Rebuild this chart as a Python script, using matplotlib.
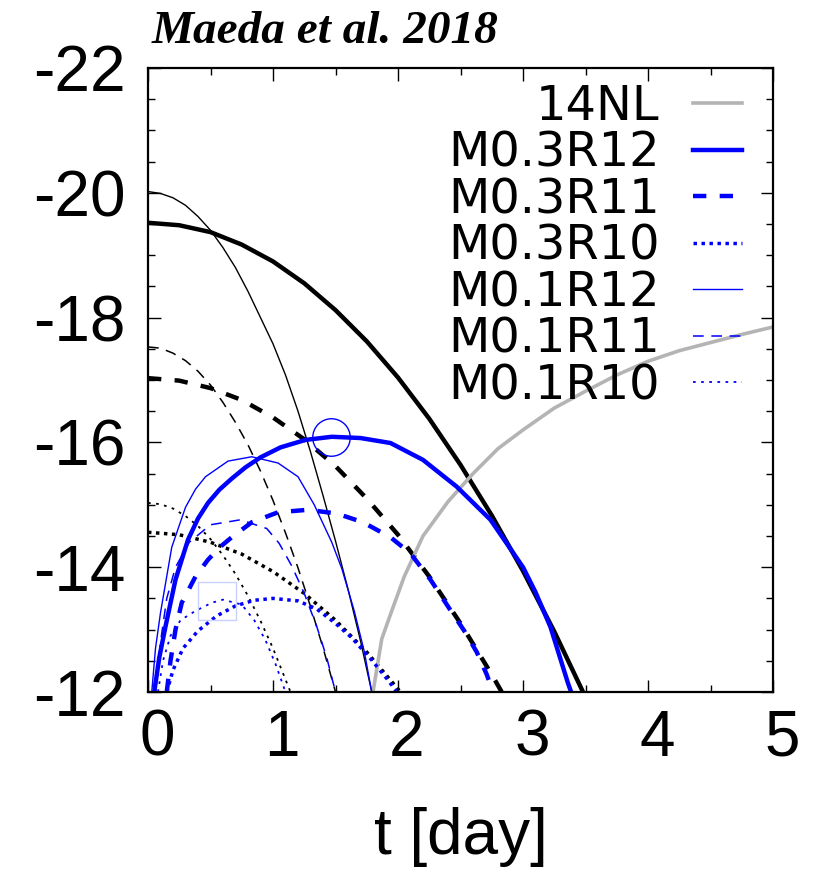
import matplotlib
matplotlib.use("Agg")
import matplotlib.pyplot as plt
from matplotlib.transforms import ScaledTranslation
from matplotlib.ticker import MultipleLocator

plt.rcParams['axes.unicode_minus'] = False

# 14NL light curve (gray)
t_14nl = [1.80, 1.87, 1.95, 2.05, 2.20, 2.40, 2.60, 2.80, 3.00, 3.25, 3.50, 3.75, 4.00, 4.25, 4.50, 4.75, 5.00]
m_14nl = [-12.0, -12.85, -13.3, -13.85, -14.5, -15.05, -15.5, -15.9, -16.2, -16.55, -16.82, -17.08, -17.3, -17.47, -17.6, -17.73, -17.85]

# CSM models (blue)
t_m03r12 = [0.05, 0.09, 0.14, 0.22, 0.32, 0.40, 0.48, 0.57, 0.67, 0.78, 0.90, 1.06, 1.26, 1.47, 1.70, 1.94, 2.20, 2.47, 2.74, 3.00, 3.10, 3.22, 3.36, 3.385]
m_m03r12 = [-12.0, -12.55, -13.05, -13.8, -14.44, -14.78, -15.03, -15.24, -15.42, -15.6, -15.76, -15.92, -16.04, -16.09, -16.07, -15.99, -15.72, -15.29, -14.76, -14.0, -13.6, -13.04, -12.14, -12.0]

t_m03r11 = [0.15, 0.18, 0.22, 0.27, 0.38, 0.48, 0.58, 0.67, 0.83, 1.04, 1.28, 1.51, 1.72, 1.94, 2.10, 2.26, 2.42, 2.53, 2.63, 2.71, 2.76]
m_m03r11 = [-12.0, -12.5, -13.0, -13.43, -13.85, -14.12, -14.33, -14.48, -14.72, -14.88, -14.92, -14.86, -14.72, -14.48, -14.22, -13.8, -13.31, -12.98, -12.64, -12.28, -12.0]

t_m03r10 = [0.15, 0.20, 0.28, 0.40, 0.55, 0.70, 0.85, 1.00, 1.20, 1.35, 1.50, 1.63, 1.79, 1.92, 1.99]
m_m03r10 = [-12.0, -12.35, -12.7, -12.98, -13.22, -13.38, -13.47, -13.5, -13.46, -13.33, -13.1, -12.87, -12.51, -12.19, -12.0]

t_m01r12 = [0.03, 0.06, 0.10, 0.19, 0.30, 0.38, 0.46, 0.64, 0.83, 1.04, 1.20, 1.33, 1.47, 1.55, 1.65, 1.73, 1.79]
m_m01r12 = [-12.0, -12.7, -13.27, -14.32, -14.96, -15.25, -15.45, -15.7, -15.77, -15.67, -15.45, -15.0, -14.4, -13.98, -13.3, -12.65, -12.0]

t_m01r11 = [0.06, 0.10, 0.15, 0.22, 0.33, 0.50, 0.74, 0.95, 1.05, 1.15, 1.25, 1.35, 1.43, 1.50]
m_m01r11 = [-12.0, -12.8, -13.5, -14.0, -14.4, -14.68, -14.76, -14.62, -14.38, -14.02, -13.58, -13.05, -12.55, -12.0]

t_m01r10 = [0.08, 0.12, 0.18, 0.26, 0.38, 0.51, 0.60, 0.75, 0.85, 0.94, 1.02, 1.10]
m_m01r10 = [-12.0, -12.5, -12.9, -13.15, -13.3, -13.43, -13.48, -13.4, -13.15, -12.83, -12.45, -12.0]

# cooling-envelope counterparts (black)
t_k_m03r12 = [0.0, 0.25, 0.50, 0.75, 1.00, 1.25, 1.50, 1.75, 2.00, 2.25, 2.50, 2.75, 3.00, 3.25, 3.48]
m_k_m03r12 = [-19.52, -19.48, -19.37, -19.17, -18.9, -18.55, -18.12, -17.62, -17.04, -16.38, -15.64, -14.83, -13.94, -12.97, -12.0]

t_k_m03r11 = [0.0, 0.25, 0.50, 0.75, 1.00, 1.25, 1.50, 1.75, 2.00, 2.25, 2.50, 2.75, 2.83]
m_k_m03r11 = [-17.03, -16.99, -16.87, -16.68, -16.4, -16.05, -15.62, -15.1, -14.52, -13.85, -13.1, -12.28, -12.0]

t_k_m03r10 = [0.0, 0.25, 0.50, 0.75, 1.00, 1.25, 1.50, 1.75, 2.02]
m_k_m03r10 = [-14.56, -14.52, -14.4, -14.21, -13.93, -13.58, -13.15, -12.64, -12.0]

t_k_m01r12 = [0.0, 0.1, 0.2, 0.3, 0.4, 0.5, 0.6, 0.7, 0.8, 0.9, 1.0, 1.1, 1.2, 1.3, 1.4, 1.5, 1.6, 1.7, 1.79]
m_k_m01r12 = [-20.02, -19.99, -19.92, -19.8, -19.62, -19.4, -19.12, -18.8, -18.42, -18.0, -17.58, -17.08, -16.5, -15.85, -15.15, -14.42, -13.65, -12.82, -12.0]

t_k_m01r11 = [0.0, 0.1, 0.2, 0.3, 0.4, 0.5, 0.6, 0.7, 0.8, 0.9, 1.0, 1.1, 1.2, 1.3, 1.4, 1.5]
m_k_m01r11 = [-17.53, -17.51, -17.43, -17.31, -17.14, -16.92, -16.64, -16.32, -15.96, -15.54, -15.07, -14.55, -13.99, -13.37, -12.71, -12.0]

t_k_m01r10 = [0.0, 0.1, 0.2, 0.3, 0.4, 0.5, 0.6, 0.7, 0.8, 0.9, 1.0, 1.14]
m_k_m01r10 = [-15.03, -15.01, -14.94, -14.82, -14.66, -14.45, -14.19, -13.89, -13.54, -13.14, -12.7, -12.0]

# observed points
obs_circle = (1.46, -16.09)
obs_square = (0.55, -13.46)

legend_labels = ['14NL', 'M0.3R12', 'M0.3R11', 'M0.3R10', 'M0.1R12', 'M0.1R11', 'M0.1R10']

BLUE = '#0000ff'
GRAY = '#b4b4b4'
# line styles: (linewidth, dash pattern)
thick_solid = dict(lw=3.2, ls='-')
thick_dash = dict(lw=3.2, ls=(0, (3.0, 3.0)))
thick_dot = dict(lw=2.5, ls=(0, (1.0, 1.3)))
thin_solid = dict(lw=1.0, ls='-')
thin_dash = dict(lw=1.1, ls=(0, (7, 5)))
thin_dot = dict(lw=1.3, ls=(0, (1.5, 3.0)))

fig = plt.figure(figsize=(8.19, 8.69), dpi=100)
ax = fig.add_axes([148 / 819, 1 - 692 / 869, 625 / 819, 624 / 869])

# black curves
ax.plot(t_k_m03r12, m_k_m03r12, color='black', **thick_solid)
ax.plot(t_k_m03r11, m_k_m03r11, color='black', **thick_dash)
ax.plot(t_k_m03r10, m_k_m03r10, color='black', **thick_dot)
ax.plot(t_k_m01r12, m_k_m01r12, color='black', **thin_solid)
ax.plot(t_k_m01r11, m_k_m01r11, color='black', **thin_dash)
ax.plot(t_k_m01r10, m_k_m01r10, color='black', **thin_dot)

l14, = ax.plot(t_14nl, m_14nl, color=GRAY, lw=2.6)
l1, = ax.plot(t_m03r12, m_m03r12, color=BLUE, **thick_solid)
l2, = ax.plot(t_m03r11, m_m03r11, color=BLUE, **thick_dash)
l3, = ax.plot(t_m03r10, m_m03r10, color=BLUE, **thick_dot)
l4, = ax.plot(t_m01r12, m_m01r12, color=BLUE, **thin_solid)
l5, = ax.plot(t_m01r11, m_m01r11, color=BLUE, **thin_dash)
l6, = ax.plot(t_m01r10, m_m01r10, color=BLUE, **thin_dot)

ax.plot([obs_circle[0]], [obs_circle[1]], marker='o', ms=27, mfc='none', mec=BLUE, mew=1.0)
ax.plot([obs_square[0]], [obs_square[1]], marker='s', ms=28, mfc='none', mec='#c8d0ff', mew=1.0)

ax.set_xlim(0, 5)
ax.set_ylim(-12, -22)
ax.xaxis.set_major_locator(MultipleLocator(1))
ax.xaxis.set_minor_locator(MultipleLocator(0.5))
ax.yaxis.set_major_locator(MultipleLocator(2))
ax.yaxis.set_minor_locator(MultipleLocator(0.5))

ax.tick_params(which='both', direction='in', top=True, right=True, width=1.0, color='black')
ax.tick_params(which='major', length=9)
ax.tick_params(which='minor', length=5)
ax.tick_params(axis='x', labelsize=46, pad=12)
ax.tick_params(axis='y', labelsize=46, pad=16)
for lab in ax.get_xticklabels() + ax.get_yticklabels():
    lab.set_fontfamily('Liberation Sans')
for lab in ax.get_xticklabels():
    lab.set_transform(lab.get_transform() + ScaledTranslation(0.09, 0, fig.dpi_scale_trans))
for sp in ax.spines.values():
    sp.set_linewidth(1.6)

ax.set_xlabel('t [day]', fontsize=46, fontfamily='Liberation Sans', va='center')
ax.xaxis.set_label_coords(0.5, -(837 - 692) / 624)

leg = ax.legend([l14, l1, l2, l3, l4, l5, l6], legend_labels,
                loc='upper right', bbox_to_anchor=(742 / 819, 1 - 83 / 869),
                bbox_transform=fig.transFigure, frameon=False, markerfirst=False,
                prop={'family': 'DejaVu Sans', 'size': 34.5},
                handlelength=1.02, handletextpad=0.7, labelspacing=-0.01,
                borderpad=0, borderaxespad=0)

fig.text(152 / 819, 1 - 43 / 869, 'Maeda et al. 2018', fontsize=34,
         fontfamily='Liberation Serif', fontweight='bold', fontstyle='italic',
         va='baseline', ha='left')

fig.savefig('out.png', dpi=100)
